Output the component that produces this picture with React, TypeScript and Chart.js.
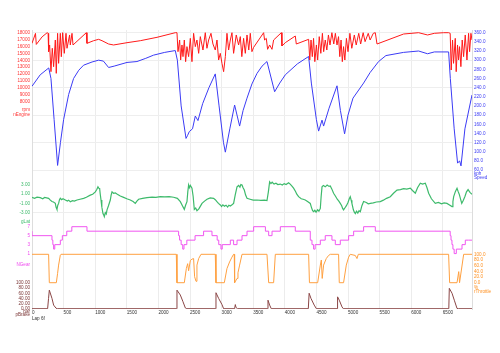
import React, { useEffect, useRef } from 'react';
import { Chart, registerables } from 'chart.js';

Chart.register(...registerables);

// ---------------- data ----------------
const lapLength = 6962;
const distanceTicks = [0, 500, 1000, 1500, 2000, 2500, 3000, 3500, 4000, 4500, 5000, 5500, 6000, 6500];

const rpmTicks = [18000, 17000, 16000, 15000, 14000, 13000, 12000, 11000, 10000, 9000, 8000];
const speedTicks = [360, 340, 320, 300, 280, 260, 240, 220, 200, 180, 160, 140, 120, 100, 80, 60];
const gLatTicks = [3, 1, -1, -3];
const gearTicks = [7, 5, 3, 1];
const throttleTicks = [100, 80, 60, 40, 20, 0];
const brakeTicks = [100, 80, 60, 40, 20, 0];

const speedDist = [0, 130, 265, 300, 350, 405, 450, 500, 580, 658, 740, 816, 950, 1054, 1130, 1212, 1300, 1503, 1661, 1800, 1924, 2100, 2267, 2300, 2360, 2437, 2460, 2489, 2540, 2584, 2626, 2700, 2800, 2900, 2960, 3030, 3059, 3130, 3206, 3285, 3340, 3402, 3480, 3560, 3640, 3718, 3839, 3920, 4008, 4200, 4377, 4420, 4500, 4535, 4589, 4614, 4700, 4826, 4880, 4946, 5000, 5079, 5247, 5350, 5484, 5600, 5880, 6117, 6259, 6366, 6592, 6619, 6680, 6734, 6766, 6788, 6850, 6962];
const speedVals = [243, 268, 283, 260, 170, 70, 120, 170, 225, 260, 278, 289, 296, 300, 298, 284, 287, 295, 297, 304, 311, 317, 321, 300, 200, 129, 135, 144, 150, 178, 168, 205, 240, 270, 200, 120, 99, 150, 202, 156, 190, 217, 248, 271, 287, 297, 231, 250, 268, 292, 308, 250, 170, 145, 169, 156, 195, 244, 190, 139, 180, 217, 250, 273, 297, 310, 317, 320, 314, 318, 318, 260, 150, 75, 80, 69, 150, 224];

const rpmDist = [0, 55, 68, 160, 240, 255,
  263, 279, 300, 321, 342, 369, 384, 405, 421, 448, 464, 485, 511, 538, 554, 595, 606, 633, 649,
  859, 870, 975, 1054, 1108, 1212, 1291, 1503, 1714, 1978, 2267,
  2294, 2310, 2336, 2352, 2373, 2389, 2410, 2431, 2452, 2478, 2505, 2531, 2557, 2584, 2610, 2637, 2663, 2705, 2742, 2768, 2795, 2832, 2863, 2900, 2927, 2953, 2979, 3006, 3032, 3059, 3085, 3111, 3138, 3164, 3190, 3232, 3269, 3296, 3320, 3348, 3375, 3402, 3430, 3454, 3480, 3507,
  3665, 3680, 3707, 3728, 3760, 3797, 3823, 3945, 3955, 4008, 4166, 4182, 4377,
  4395, 4415, 4435, 4455, 4475, 4500, 4520, 4545, 4570, 4595, 4615, 4640, 4665, 4690, 4715, 4745, 4775, 4800, 4826, 4850, 4870, 4890, 4910, 4930, 4950, 4975, 5000, 5030, 5060, 5100, 5130, 5170, 5200, 5240, 5270, 5320, 5350, 5400, 5432,
  5459, 5880, 6117, 6259, 6366, 6513, 6592,
  6617, 6633, 6654, 6670, 6697, 6712, 6733, 6749, 6765, 6786, 6807, 6829, 6855, 6882, 6908, 6924, 6945, 6962];
const rpmVals = [16460, 17900, 16300, 17400, 18000, 17900,
  15250, 16220, 12350, 15740, 13070, 16940, 12110, 17910, 13560, 17910, 14520, 18000, 15010, 17910, 15740, 17670, 16220, 17910, 16220,
  18000, 16460, 16840, 17040, 16840, 16360, 16220, 16550, 16840, 17330, 18000,
  18000, 15250, 16940, 14040, 16220, 14530, 16940, 13800, 15980, 14530, 17180, 13800, 17910, 15980, 16940, 15010, 17430, 15490, 18000, 15740, 16940, 17910, 16360, 15490, 16940, 14040, 15010, 13560, 12350, 14530, 17910, 15490, 16940, 18000, 15010, 17670, 16220, 17430, 14530, 17180, 15010, 17670, 15490, 17910, 15250, 15880,
  18000, 16940, 17180, 15590, 16220, 15590, 16940, 18000, 16070, 16555, 17520, 16360, 17040,
  14040, 16940, 14530, 17180, 13800, 16220, 14040, 17430, 15010, 17910, 15250, 16940, 15490, 17670, 16220, 18000, 16360, 17910, 16220, 17430, 14530, 16940, 13800, 15980, 14040, 17180, 15250, 17910, 15740, 17670, 16220, 17910, 16360, 18000, 16700, 17910, 16940, 17910, 18000,
  16360, 17810, 18000, 17670, 17910, 18000, 18000,
  17910, 12590, 16940, 13560, 17180, 12350, 16220, 14040, 15980, 13080, 16940, 14530, 17670, 14040, 17910, 15250, 17910, 16940];

const gLatDist = [0, 40, 80, 131, 170, 200, 263, 290, 316, 340, 369, 380, 395, 408, 421, 435, 448, 470, 490, 527, 560, 580, 606, 640, 670, 712, 760, 817, 860, 922, 960, 1002, 1025, 1044, 1058, 1070, 1080, 1092, 1105, 1123, 1134, 1144, 1160, 1175, 1187, 1210, 1239, 1252, 1266, 1290, 1318, 1350, 1397, 1450, 1500, 1555, 1600, 1634, 1660, 1687, 1750, 1820, 1900, 1960, 2030, 2100, 2170, 2241, 2300, 2347, 2380, 2410, 2430, 2452, 2465, 2478, 2490, 2505, 2531, 2550, 2568, 2590, 2610, 2640, 2665, 2690, 2730, 2769, 2820, 2873, 2900, 2926, 2950, 2980, 3000, 3020, 3045, 3070, 3095, 3115, 3138, 3165, 3190, 3215, 3244, 3270, 3290, 3305, 3323, 3340, 3359, 3380, 3402, 3450, 3500, 3560, 3620, 3680, 3718, 3740, 3760, 3780, 3800, 3830, 3860, 3890, 3929, 3960, 3990, 4020, 4060, 4085, 4110, 4139, 4170, 4190, 4218, 4260, 4290, 4324, 4360, 4403, 4420, 4440, 4456, 4475, 4495, 4520, 4540, 4562, 4575, 4589, 4610, 4640, 4670, 4700, 4720, 4745, 4772, 4800, 4830, 4855, 4878, 4900, 4915, 4930, 4950, 4975, 5000, 5020, 5036, 5050, 5062, 5085, 5100, 5116, 5135, 5155, 5175, 5195, 5220, 5247, 5290, 5320, 5353, 5400, 5450, 5511, 5560, 5610, 5669, 5720, 5775, 5830, 5880, 5930, 5986, 6020, 6065, 6100, 6144, 6180, 6223, 6250, 6276, 6320, 6381, 6430, 6480, 6520, 6566, 6600, 6646, 6660, 6672, 6700, 6725, 6745, 6760, 6780, 6800, 6825, 6850, 6875, 6900, 6930, 6962];
const gLatVals = [0.3, 0.1, 0.35, 0.24, 0.0, 0.3, 0.1, -0.3, -0.6, -0.7, -0.98, -1.8, -2.3, -1.4, -1.0, -0.2, 0.1, -0.2, 0.0, -0.26, -0.5, -0.3, -0.63, -0.4, -0.5, -0.26, -0.1, 0.1, 0.35, 0.8, 1.0, 1.5, 2.0, 2.6, 2.3, 2.26, 1.0, -0.26, -1.8, -3.2, -3.5, -3.9, -3.0, -3.3, -2.4, -1.5, -0.26, 0.8, 1.5, 1.2, 1.3, 1.0, 0.6, 0.3, 0.0, -0.26, -0.6, -1.0, -0.5, -0.1, 0.1, 0.24, 0.35, 0.3, 0.46, 0.4, 0.45, 0.33, 0.1, -0.63, -1.5, -2.3, -1.4, -0.63, 1.5, 3.0, 2.4, 2.9, 2.3, 0.5, -2.3, -2.0, -2.6, -2.2, -1.6, -1.0, -0.5, -0.1, 0.2, 0.1, -0.2, -0.63, -1.0, -1.35, -1.7, -1.3, -1.6, -1.4, -1.8, -1.4, -1.57, -1.3, -1.0, 0.8, 2.6, 2.9, 2.5, 3.1, 3.0, 2.4, 1.9, 0.8, 0.1, -0.1, -0.3, -0.26, -0.35, -0.3, -0.4, 1.5, 3.7, 3.3, 3.6, 3.2, 3.4, 3.1, 3.2, 3.0, 3.3, 3.1, 3.5, 3.2, 2.8, 2.3, 1.6, 1.0, 0.46, 0.0, -0.1, -0.26, -0.6, -1.0, -1.8, -2.6, -2.8, -2.5, -2.9, -2.4, -2.7, -2.1, 0.5, 2.6, 2.9, 2.6, 3.0, 2.7, 2.8, 2.1, 1.2, 0.6, -0.1, -0.5, -1.0, -1.5, -2.1, -2.4, -2.0, -1.5, -0.8, 0.0, 0.45, -0.3, -1.0, -2.4, -2.9, -3.2, -2.7, -3.1, -2.6, -2.8, -1.5, -0.6, -0.8, -1.1, -1.0, -0.9, -0.7, -0.6, -0.3, 0.1, 0.46, 1.2, 1.9, 2.0, 2.2, 2.1, 2.3, 1.8, 1.2, 2.4, 3.4, 3.2, 3.4, 2.4, 1.2, 0.0, -1.0, -0.8, -1.1, -0.9, -1.0, -1.3, -1.7, -0.6, 0.46, 1.6, 2.3, 1.5, 1.0, 0.0, -1.0, -0.3, 0.5, 1.5, 2.0, 1.4, 1.0];

const gearDist = [0, 316, 330, 342, 360, 448, 480, 550, 630, 870, 2320, 2335, 2360, 2385, 2405, 2450, 2580, 2715, 2848, 2930, 2955, 2990, 3010, 3138, 3190, 3244, 3323, 3402, 3507, 3693, 3745, 3798, 3929, 4166, 4403, 4430, 4456, 4480, 4562, 4640, 4746, 4799, 4878, 5010, 5089, 5247, 5432, 6617, 6630, 6645, 6660, 6680, 6714, 6804, 6856, 6909, 6962];
const gearVals = [6, 5, 4, 3, 2, 3, 4, 5, 6, 7, 6, 5, 4, 3, 2, 3, 4, 5, 6, 5, 4, 3, 2, 3, 4, 3, 4, 5, 6, 7, 6, 5, 6, 7, 6, 4, 3, 2, 3, 4, 5, 4, 3, 4, 5, 6, 7, 6, 5, 4, 3, 2, 1, 2, 3, 4, 4];

const throttleDist = [0, 263, 274, 385, 405, 421, 448, 459, 2283, 2294, 2410, 2442, 2463, 2478, 2505, 2531, 2557, 2573, 2595, 2610, 2637, 2674, 2900, 2911, 3043, 3085, 3126, 3164, 3190, 3200, 3206, 3244, 3259, 3285, 3323, 3718, 3745, 3823, 3850, 4377, 4390, 4520, 4562, 4578, 4592, 4614, 4656, 4693, 4720, 4851, 4862, 4930, 4973, 5010, 5036, 5115, 5142, 5163, 6592, 6608, 6725, 6752, 6765, 6830, 6962];
const throttleVals = [100, 100, 0, 0, 33, 62, 97, 100, 100, 0, 0, 50, 67, 42, 78, 83, 85, 21, 5, 62, 85, 100, 100, 0, 0, 50, 73, 90, 100, 100, 0, 15, 35, 62, 100, 100, 0, 0, 100, 100, 0, 0, 62, 80, 15, 62, 85, 96, 100, 100, 0, 0, 62, 90, 100, 96, 85, 100, 100, 0, 0, 39, 0, 100, 100];

const brakeDist = [0, 247, 262, 274, 316, 342, 380, 400, 2283, 2294, 2347, 2389, 2426, 2449, 2900, 2911, 2953, 3006, 3032, 3206, 3217, 3228, 3249, 3723, 3734, 3760, 3786, 4372, 4385, 4414, 4465, 4500, 4831, 4835, 4862, 4905, 4926, 6595, 6603, 6646, 6682, 6725, 6745, 6962];
const brakeVals = [0, 0, 40, 72, 40, 14, 2, 0, 0, 72, 53, 27, 3, 0, 0, 62, 40, 16, 0, 0, 16, 5, 0, 0, 33, 14, 0, 0, 60, 40, 14, 0, 0, 46, 33, 7, 0, 0, 79, 60, 33, 1, 0, 0];

// ---------------- styling ----------------
const FONT = '"Liberation Sans", Arial, sans-serif';
const TICK_SIZE = 4.6;

type Extra = [number, string];

function makeY(o: {
  position: 'left' | 'right';
  weight: number;
  stackWeight: number;
  min: number;
  max: number;
  ticks: number[];
  extras: Extra[];
  decimals: number;
  color: string;
  gridValues?: number[];
}) {
  return {
    type: 'linear',
    position: o.position,
    weight: o.weight,
    stack: o.position,
    stackWeight: o.stackWeight,
    min: o.min,
    max: o.max,
    afterBuildTicks: (s: any) => {
      s.ticks = o.ticks.concat(o.extras.map((e) => e[0])).map((v) => ({ value: v }));
    },
    afterFit: (s: any) => {
      s.width = o.position === 'left' ? 32 : 28;
    },
    ticks: {
      autoSkip: false,
      padding: 2,
      color: o.color,
      font: { family: FONT, size: TICK_SIZE },
      callback: (v: number) => {
        const e = o.extras.find((x) => x[0] === v);
        return e ? e[1] : Number(v).toFixed(o.decimals);
      },
    },
    grid: {
      display: !!o.gridValues,
      drawTicks: false,
      lineWidth: 1,
      color: (ctx: any) =>
        o.gridValues && ctx.tick && o.gridValues.includes(ctx.tick.value) ? '#eeeeee' : 'rgba(0,0,0,0)',
    },
    border: { display: true, color: '#dddddd', width: 1 },
  };
}

function series(label: string, d: number[], v: number[], axis: string, color: string, extra: any = {}) {
  return {
    label,
    data: d.map((x, i) => ({ x, y: v[i] })),
    xAxisID: 'x',
    yAxisID: axis,
    borderColor: color,
    backgroundColor: color,
    borderWidth: 1,
    pointRadius: 0,
    tension: 0,
    fill: false,
    ...extra,
  };
}

export default function App() {
  const ref = useRef<HTMLCanvasElement | null>(null);

  useEffect(() => {
    if (!ref.current) return;
    const chart = new Chart(ref.current, {
      type: 'line',
      data: {
        datasets: [
          series('nEngine', rpmDist, rpmVals, 'yRpm', '#ff1a1a'),
          series('Speed', speedDist, speedVals, 'ySpeed', '#3b3bf5'),
          series('gLat', gLatDist, gLatVals, 'yGLat', '#3dba6b', { borderWidth: 1.2 }),
          series('NGear', gearDist, gearVals, 'yGear', '#f055f0', { stepped: 'after' }),
          series('rThrottle', throttleDist, throttleVals, 'yThrottle', '#ffa040'),
          series('pBrake', brakeDist, brakeVals, 'yBrake', '#8a4545'),
        ],
      } as any,
      options: {
        animation: false,
        responsive: true,
        maintainAspectRatio: false,
        devicePixelRatio: 1,
        layout: { padding: { top: 30, left: 0, right: 0, bottom: 0 } },
        plugins: { legend: { display: false }, tooltip: { enabled: false } },
        scales: {
          x: {
            type: 'linear',
            position: 'bottom',
            min: 0,
            max: lapLength,
            afterBuildTicks: (s: any) => {
              s.ticks = distanceTicks.map((v) => ({ value: v }));
            },
            afterFit: (s: any) => {
              s.height = 44;
            },
            ticks: {
              autoSkip: false,
              maxRotation: 0,
              align: 'start',
              padding: 1,
              color: '#333333',
              font: { family: FONT, size: TICK_SIZE },
              callback: (v: number) => String(v),
            },
            grid: { color: '#ececec', drawTicks: false },
            border: { display: false },
            title: {
              display: true,
              text: 'Lap 6f',
              align: 'start',
              color: '#333333',
              font: { family: FONT, size: TICK_SIZE },
              padding: { top: 0, bottom: 32 },
            },
          },
          yRpm: makeY({
            position: 'left', weight: 4, stackWeight: 148, min: -3058, max: 18391,
            ticks: rpmTicks, extras: [[6870, 'rpm'], [6145, 'nEngine']], decimals: 0, color: '#ff3333',
          }),
          yGLat: makeY({
            position: 'left', weight: 3, stackWeight: 46, min: -5.48, max: 4.52,
            ticks: gLatTicks, extras: [[-5.0, 'gLat']], decimals: 2, color: '#3dba6b', gridValues: [-3],
          }),
          yGear: makeY({
            position: 'left', weight: 2, stackWeight: 44, min: -2.21, max: 7.6,
            ticks: gearTicks, extras: [[-1.39, 'NGear']], decimals: 0, color: '#ee44ee',
          }),
          yBrake: makeY({
            position: 'left', weight: 1, stackWeight: 41, min: -1.2, max: 158,
            ticks: brakeTicks, extras: [[-13.3, 'bar'], [-23.5, 'pBrake']], decimals: 2, color: '#7a3535',
          }),
          ySpeed: makeY({
            position: 'right', weight: 1, stackWeight: 148, min: 42.55, max: 365.9,
            ticks: speedTicks, extras: [[51.3, 'kph'], [44.1, 'Speed']], decimals: 1, color: '#3b3bf5',
            gridValues: [360, 300, 240, 180, 120, 60],
          }),
          yThrottle: makeY({
            position: 'right', weight: 2, stackWeight: 131, min: -92.6, max: 368.7,
            ticks: throttleTicks, extras: [[-17.6, '%'], [-31.7, 'rThrottle']], decimals: 1, color: '#ff9020',
          }),
        },
      } as any,
    });
    return () => chart.destroy();
  }, []);

  return (
    <div style={{ position: 'fixed', left: 0, top: 0, width: 500, height: 353, background: '#ffffff' }}>
      <canvas ref={ref} />
    </div>
  );
}
